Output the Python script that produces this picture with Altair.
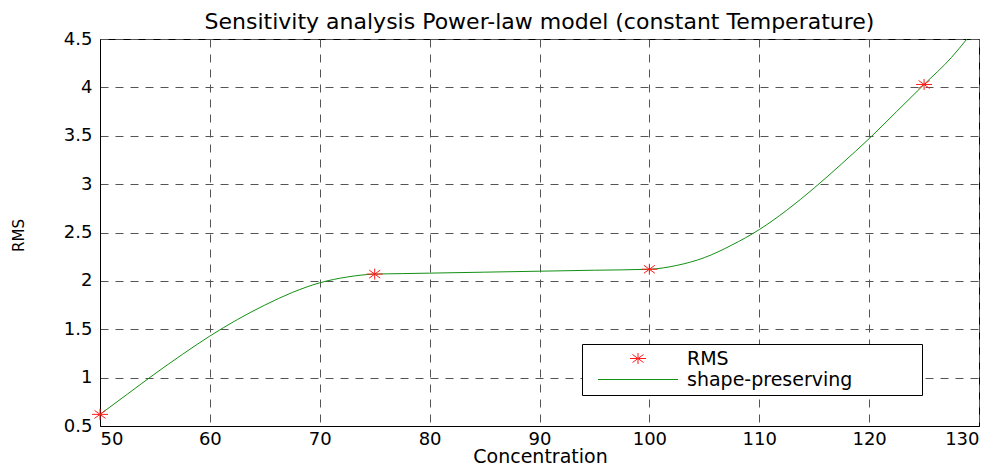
import altair as alt
import pandas as pd

# Data
rms_x = [50, 75, 100, 125]
rms_y = [0.62, 2.07, 2.12, 4.03]

curve_x = [50, 52.5, 55, 57.5, 60, 62.5, 65, 67.5, 70, 72.5, 75, 77.5, 80, 85, 90, 95, 100,
           102.5, 105, 107.5, 110, 112.5, 115, 117.5, 120, 122.5, 125, 127.5, 128.9]
curve_y = [0.62, 0.83, 1.04, 1.24, 1.43, 1.60, 1.75, 1.88, 1.98, 2.04, 2.07, 2.075, 2.08, 2.09, 2.10, 2.11, 2.12,
           2.16, 2.24, 2.37, 2.53, 2.73, 2.96, 3.21, 3.47, 3.75, 4.03, 4.31, 4.50]

x_ticks = [50, 60, 70, 80, 90, 100, 110, 120, 130]
y_ticks = [0.5, 1, 1.5, 2, 2.5, 3, 3.5, 4, 4.5]

series_names = ["RMS", "shape-preserving"]
series_colors = ["#ff1a1a", "#129012"]

FONT = "DejaVu Sans"

pts = pd.DataFrame({"x": rms_x, "y": rms_y, "series": series_names[0]})
crv = pd.DataFrame({"x": curve_x, "y": curve_y, "series": series_names[1]})

ast_path = "M-1.6,0L1.6,0M0,-1.1L0,1.1M-1.1,-0.8L1.1,0.8M-1.1,0.8L1.1,-0.8"
# legend line sample; the trailing move-to widens the legend box like MATLAB's
line_path = "M-8,0L8,0M55.4,0"

xenc = alt.X("x:Q", scale=alt.Scale(domain=[50, 130], nice=False, zero=False),
             axis=alt.Axis(values=x_ticks, title="Concentration", titleX=440, titleY=36,
                           titleFontSize=19, titleBaseline="alphabetic", labelPadding=4))
yenc = alt.Y("y:Q", scale=alt.Scale(domain=[0.5, 4.5], nice=False, zero=False),
             axis=alt.Axis(values=y_ticks, format="~g", title="RMS", titleX=-82, titleY=196,
                           titleAngle=270, titleBaseline="middle", titleFontSize=15, labelPadding=8))

color = alt.Color("series:N", scale=alt.Scale(domain=series_names, range=series_colors),
                  legend=alt.Legend(title=None, labelLimit=500))
shape = alt.Shape("series:N", scale=alt.Scale(domain=series_names, range=[ast_path, line_path]),
                  legend=alt.Legend(title=None, labelLimit=500))

line = alt.Chart(crv).mark_line(interpolate="monotone", strokeWidth=1, clip=True).encode(
    x=xenc, y=yenc, color=color)

points = alt.Chart(pts).mark_point(filled=False, size=100, strokeWidth=1, opacity=1).encode(
    x=xenc, y=yenc, color=color, shape=shape)

chart = alt.layer(line, points).properties(
    width=879, height=387,
    autosize=alt.AutoSizeParams(type="none"),
    padding={"left": 92, "top": 31, "right": 15, "bottom": 40},
    title=alt.TitleParams("Sensitivity analysis Power-law model (constant Temperature)",
                          font=FONT, fontSize=22, fontWeight="normal", color="black",
                          anchor="middle", offset=14, dy=35, baseline="alphabetic"),
).configure_view(
    stroke="black", strokeWidth=1
).configure_axis(
    domainColor="black", domainWidth=1, ticks=False,
    grid=True, gridColor="#555555", gridDash=[8, 7], gridWidth=1, gridOpacity=1,
    labelFont=FONT, labelFontSize=18, labelColor="black",
    titleFont=FONT, titleFontSize=19, titleColor="black", titleFontWeight="normal",
).configure_legend(
    orient="none", legendX=482, legendY=305,
    strokeColor="black", fillColor="white", padding=5,
    symbolSize=100, symbolStrokeWidth=1, symbolOffset=41.5, labelOffset=39.5,
    labelFont=FONT, labelFontSize=19, labelColor="black", rowPadding=1,
)

chart.save("out.html", embed_options={"renderer": "svg", "actions": False})
